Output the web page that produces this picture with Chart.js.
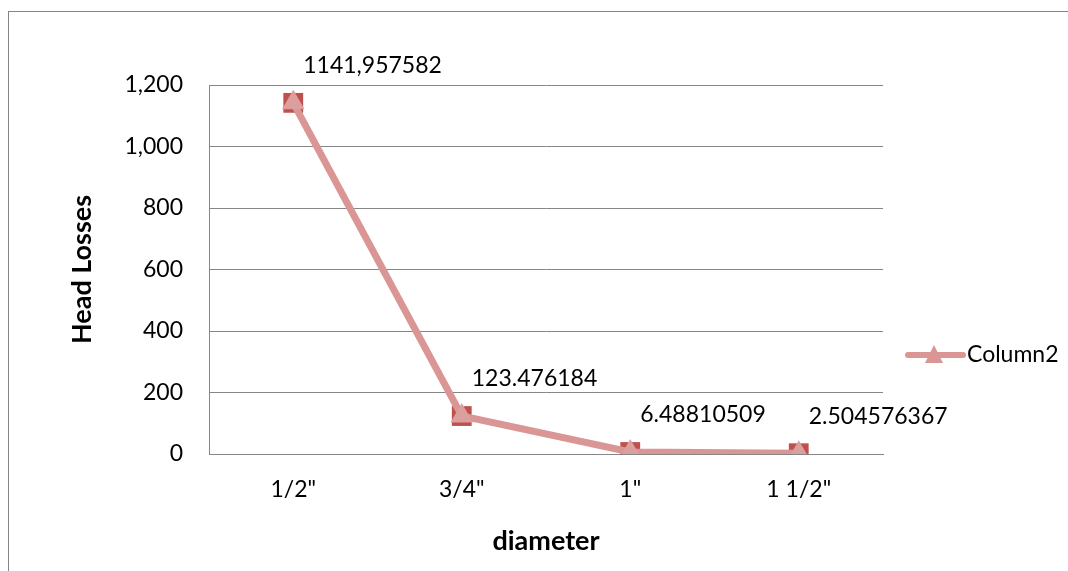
<!DOCTYPE html>
<html>
<head>
<meta charset="utf-8">
<script src="https://cdn.jsdelivr.net/npm/chart.js"></script>
<style>
  body { margin: 0; background: #fff; }
</style>
</head>
<body>
<canvas id="myChart" width="1068" height="571"></canvas>
<script>
var categories = ['1/2"', '3/4"', '1"', '1 1/2"'];
var column1 = [1141.957582, 123.476184, 6.48810509, 2.504576367];
var column2 = [1141.957582, 123.476184, 6.48810509, 2.504576367];
var pointLabels = ['1141,957582', '123.476184', '6.48810509', '2.504576367'];
var yTicks = [0, 200, 400, 600, 800, 1000, 1200];

var FONT = 'Lato, "Open Sans", sans-serif';
var pink = '#D99694';
var red = '#C0504D';

// outer frame like the excel chart border
var framePlugin = {
    id: 'frame',
    beforeDraw: function(chart) {
        var ctx = chart.ctx;
        ctx.save();
        ctx.fillStyle = '#fff';
        ctx.fillRect(0, 0, chart.width, chart.height);
        ctx.strokeStyle = '#868686';
        ctx.lineWidth = 1;
        ctx.strokeRect(8.5, 11.5, chart.width + 20, chart.height + 20);
        ctx.restore();
    }
};

// data labels of Column2
var labelPlugin = {
    id: 'pointLabels',
    afterDatasetsDraw: function(chart) {
        var ctx = chart.ctx;
        var meta = chart.getDatasetMeta(1);
        ctx.save();
        ctx.font = '23px ' + FONT;
        ctx.fillStyle = '#000';
        ctx.textAlign = 'left';
        ctx.textBaseline = 'middle';
        meta.data.forEach(function(pt, i) {
            ctx.fillText(pointLabels[i], pt.x + 10, pt.y - 37);
        });
        ctx.restore();
    }
};

// legend: line + triangle + text, only Column2
var legendPlugin = {
    id: 'lineLegend',
    afterDraw: function(chart) {
        var ctx = chart.ctx;
        var x0 = chart.chartArea.right + 25;
        var y = 355;
        ctx.save();
        ctx.strokeStyle = pink;
        ctx.lineWidth = 6;
        ctx.lineCap = 'round';
        ctx.beginPath();
        ctx.moveTo(x0, y);
        ctx.lineTo(x0 + 55, y);
        ctx.stroke();
        ctx.fillStyle = pink;
        ctx.beginPath();
        ctx.moveTo(x0 + 26, y - 10);
        ctx.lineTo(x0 + 35, y + 8);
        ctx.lineTo(x0 + 17, y + 8);
        ctx.closePath();
        ctx.fill();
        ctx.font = '23px ' + FONT;
        ctx.fillStyle = '#000';
        ctx.textBaseline = 'middle';
        ctx.fillText(chart.data.datasets[1].label, x0 + 59, y);
        ctx.restore();
    }
};

var ctx = document.getElementById('myChart').getContext('2d');
var chart = new Chart(ctx, {
    type: 'line',
    data: {
        labels: categories,
        datasets: [{
            label: 'Column1',
            data: column1,
            order: 2,
            borderColor: red,
            backgroundColor: red,
            borderWidth: 2,
            pointStyle: 'rect',
            pointRadius: 14,
            pointBorderWidth: 0,
            pointBackgroundColor: red
        }, {
            label: 'Column2',
            data: column2,
            order: 1,
            borderColor: pink,
            backgroundColor: pink,
            borderWidth: 7,
            pointStyle: 'triangle',
            pointRadius: 13,
            pointBorderWidth: 0,
            pointBackgroundColor: '#DBA09E'
        }]
    },
    options: {
        responsive: false,
        animation: false,
        devicePixelRatio: 1,
        layout: { padding: { left: 0, right: 185, top: 85, bottom: 0 } },
        plugins: {
            legend: { display: false },
            tooltip: { enabled: false }
        },
        scales: {
            x: {
                offset: true,
                grid: { display: false, drawTicks: false, offset: true },
                border: { display: true, color: '#868686', width: 1 },
                ticks: { color: '#000', font: { family: FONT, size: 23 }, padding: 22, maxRotation: 0 },
                title: {
                    display: true, text: 'diameter', color: '#000',
                    font: { family: FONT, size: 27, weight: 'bold' },
                    padding: { top: 0, bottom: 14 }
                },
                afterFit: function(scale) { scale.height = 117; }
            },
            y: {
                min: 0,
                max: 1200,
                afterBuildTicks: function(scale) {
                    scale.ticks = yTicks.map(function(v) { return { value: v }; });
                },
                grid: { color: '#868686', lineWidth: 1, drawTicks: false },
                border: { display: true, color: '#868686', width: 1 },
                ticks: { color: '#000', font: { family: FONT, size: 23 }, padding: 26 },
                title: {
                    display: true, text: 'Head Losses', color: '#000',
                    font: { family: FONT, size: 27, weight: 'bold' },
                    padding: { top: 66, bottom: 0 }
                },
                afterFit: function(scale) { scale.width = 209; }
            }
        }
    },
    plugins: [framePlugin, labelPlugin, legendPlugin]
});
</script>
</body>
</html>
